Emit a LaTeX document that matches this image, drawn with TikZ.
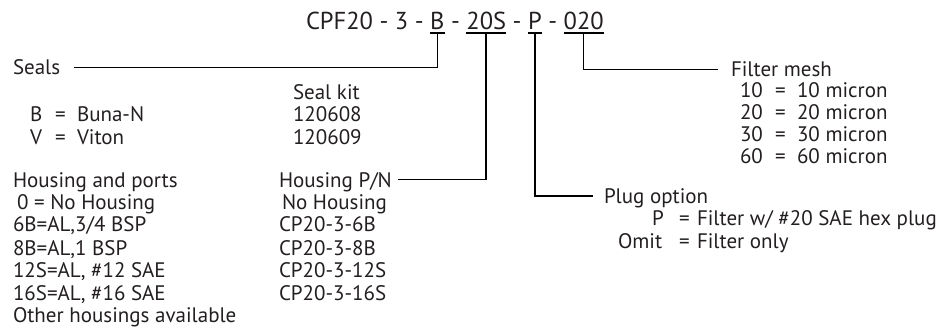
\documentclass[tikz,border=0pt]{standalone}
\usepackage{fontspec}
\setmainfont{PT Sans}
\definecolor{ink}{HTML}{231F20}
\newcommand\bodyfont{\fontsize{21}{22}\selectfont}
\newcommand\titlefont{\fontsize{24.5}{30}\selectfont}
\newcommand\dsep{\ -\ \null}
\tikzset{
  lbl/.style={anchor=base west, inner sep=0pt, outer sep=0pt, font=\bodyfont, text=ink},
  ttl/.style={anchor=base west, inner sep=0pt, outer sep=0pt, font=\titlefont, text=ink},
  wire/.style={draw=black, line width=1.6pt},
}
\begin{document}
\begin{tikzpicture}[x=1pt,y=-1pt]
\useasboundingbox (0,0) rectangle (948,331);
% title
\node[ttl] (t1) at (306,30) {CPF20\dsep3\dsep};
\node[ttl] (tB) at (t1.base east) {B};
\node[ttl] (t2) at (tB.base east) {\dsep};
\node[ttl] (tS) at (t2.base east) {20S};
\node[ttl] (t3) at (tS.base east) {\dsep};
\node[ttl] (tP) at (t3.base east) {P};
\node[ttl] (t4) at (tP.base east) {\dsep};
\node[ttl] (tM) at (t4.base east) {020};
% underlines
\foreach \n in {tB,tS,tP,tM}{
  \draw[wire] ([yshift=-3pt]\n.base west) -- ([yshift=-3pt]\n.base east);
  \coordinate (u\n) at ([yshift=-3pt]\n.base);
}
% seals block
\node[lbl] (seals) at (13,75) {Seals};
\node[lbl] (sealkit) at (293,100) {Seal kit};
\node[lbl] (bkey) at (30,122) {B};
\node[lbl] (beq) at (55,122) {=};
\node[lbl] (bval) at (77,122) {Buna-N};
\node[lbl] (vkey) at (30,145) {V};
\node[lbl] (veq) at (55,145) {=};
\node[lbl] (vval) at (77,145) {Viton};
\node[lbl] (kit1) at (293,122) {120608};
\node[lbl] (kit2) at (293,145) {120609};
% housing block
\node[lbl] (hsg) at (13,188) {Housing and ports};
\node[lbl] (h0) at (17,210) {0 = No Housing};
\node[lbl] (h1) at (13,232) {6B=AL,3/4 BSP};
\node[lbl] (h2) at (13,255) {8B=AL,1 BSP};
\node[lbl] (h3) at (13,277) {12S=AL, \#12 SAE};
\node[lbl] (h4) at (13,300) {16S=AL, \#16 SAE};
\node[lbl] (h5) at (13,322) {Other housings available};
\node[lbl] (hpn) at (279,188) {Housing P/N};
\node[lbl] (p0) at (282,210) {No Housing};
\node[lbl] (p1) at (279,232) {CP20-3-6B};
\node[lbl] (p2) at (279,255) {CP20-3-8B};
\node[lbl] (p3) at (279,277) {CP20-3-12S};
\node[lbl] (p4) at (279,300) {CP20-3-16S};
% filter mesh block
\node[lbl] (filt) at (731,77) {Filter mesh};
\node[lbl] (f1k) at (740,98) {10};
\node[lbl] (f1e) at (775,98) {=};
\node[lbl] (f1v) at (797,98) {10 micron};
\node[lbl] (f2k) at (740,120) {20};
\node[lbl] (f2e) at (775,120) {=};
\node[lbl] (f2v) at (797,120) {20 micron};
\node[lbl] (f3k) at (740,142) {30};
\node[lbl] (f3e) at (775,142) {=};
\node[lbl] (f3v) at (797,142) {30 micron};
\node[lbl] (f4k) at (740,164) {60};
\node[lbl] (f4e) at (775,164) {=};
\node[lbl] (f4v) at (797,164) {60 micron};
% plug block
\node[lbl] (plug) at (604,204) {Plug option};
\node[lbl] (pk) at (652,226) {P};
\node[lbl] (pe) at (679,226) {=};
\node[lbl] (pv) at (697,226) {Filter w/ \#20 SAE hex plug};
\node[lbl] (ok) at (618,248) {Omit};
\node[lbl] (oe) at (679,248) {=};
\node[lbl] (ov) at (697,248) {Filter only};
% connector ends
\coordinate (sealsEnd) at ([xshift=14pt,yshift=7.5pt]seals.base east);
\coordinate (hpnEnd) at ([xshift=6pt,yshift=8.5pt]hpn.base east);
\coordinate (filtEnd) at ([xshift=-13pt,yshift=7.5pt]filt.base west);
\coordinate (plugEnd) at ([xshift=-11pt,yshift=8pt]plug.base west);
% connectors
\draw[wire] (utB) |- (sealsEnd);
\draw[wire] (utS) |- (hpnEnd);
\draw[wire] (utP) |- (plugEnd);
\draw[wire] (utM) |- (filtEnd);
\end{tikzpicture}
\end{document}
